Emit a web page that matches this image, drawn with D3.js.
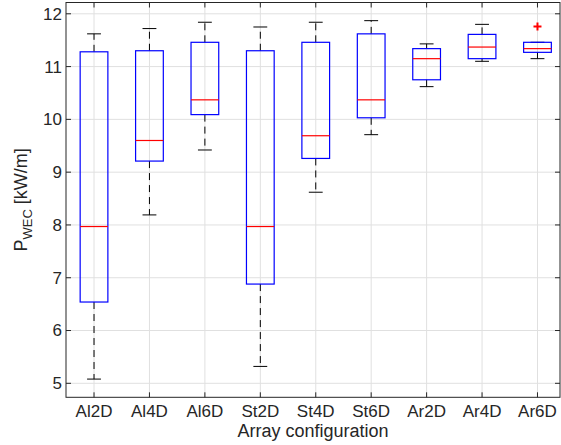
<!DOCTYPE html>
<html>
<head>
<meta charset="utf-8">
<script src="https://cdn.jsdelivr.net/npm/d3@7"></script>
<style>
  html, body { margin: 0; padding: 0; background: #fff; }
  svg { display: block; font-family: "Liberation Sans", Arial, Helvetica, sans-serif; }
</style>
</head>
<body>
<svg id="chart" width="561" height="445"></svg>
<script>
// Box-plot summary per array configuration (kW/m)
const categories  = ["Al2D", "Al4D", "Al6D", "St2D", "St4D", "St6D", "Ar2D", "Ar4D", "Ar6D"];
const whiskerLow  = [5.08, 8.19, 9.42, 5.32, 8.62, 9.71, 10.62, 11.10, 11.15];
const quartile1   = [6.54, 9.21, 10.09, 6.88, 9.26, 10.03, 10.75, 11.15, 11.27];
const medians     = [7.97, 9.60, 10.37, 7.97, 9.69, 10.37, 11.15, 11.37, 11.34];
const quartile3   = [11.28, 11.30, 11.46, 11.30, 11.46, 11.62, 11.34, 11.61, 11.46];
const whiskerHigh = [11.62, 11.72, 11.84, 11.75, 11.84, 11.87, 11.43, 11.80, 11.46];
const outliers    = [{ cat: "Ar6D", value: 11.76 }];
const yTicks      = [5, 6, 7, 8, 9, 10, 11, 12];

const svg = d3.select("#chart");
const pLeft = 66, pRight = 560, pTop = 2.5, pBottom = 397.3;

const x = d3.scaleLinear().domain([0.5, 9.5]).range([66.3, 565.2]);
const y = d3.scaleLinear().domain([4.735, 12.214]).range([pBottom, pTop]);
const step = x(2) - x(1);
const boxW = step * 0.5, capW = step * 0.25;

const axisColor = "#262626";
const gridColor = "#e0e0e0";

// grid
const grid = svg.append("g");
grid.selectAll("line.gy").data(yTicks).join("line")
  .attr("x1", pLeft).attr("x2", pRight)
  .attr("y1", d => y(d)).attr("y2", d => y(d))
  .attr("stroke", gridColor).attr("stroke-width", 1);
grid.selectAll("line.gx").data(categories).join("line")
  .attr("x1", (d, i) => x(i + 1)).attr("x2", (d, i) => x(i + 1))
  .attr("y1", pTop).attr("y2", pBottom)
  .attr("stroke", gridColor).attr("stroke-width", 1);

// boxes
const data = categories.map((c, i) => ({
  c, pos: i + 1, lo: whiskerLow[i], q1: quartile1[i], med: medians[i], q3: quartile3[i], hi: whiskerHigh[i]
}));
const g = svg.append("g");
const b = g.selectAll("g.box").data(data).join("g").attr("class", "box");

b.append("line") // upper whisker
  .attr("x1", d => x(d.pos)).attr("x2", d => x(d.pos))
  .attr("y1", d => y(d.q3)).attr("y2", d => y(d.hi))
  .attr("stroke", "#000").attr("stroke-width", 1).attr("stroke-dasharray", "7,5");
b.append("line") // lower whisker
  .attr("x1", d => x(d.pos)).attr("x2", d => x(d.pos))
  .attr("y1", d => y(d.q1)).attr("y2", d => y(d.lo))
  .attr("stroke", "#000").attr("stroke-width", 1).attr("stroke-dasharray", "7,5");
b.append("line") // upper cap
  .attr("x1", d => x(d.pos) - capW / 2).attr("x2", d => x(d.pos) + capW / 2)
  .attr("y1", d => y(d.hi)).attr("y2", d => y(d.hi))
  .attr("stroke", "#000").attr("stroke-width", 1);
b.append("line") // lower cap
  .attr("x1", d => x(d.pos) - capW / 2).attr("x2", d => x(d.pos) + capW / 2)
  .attr("y1", d => y(d.lo)).attr("y2", d => y(d.lo))
  .attr("stroke", "#000").attr("stroke-width", 1);
b.append("rect")
  .attr("x", d => x(d.pos) - boxW / 2).attr("width", boxW)
  .attr("y", d => y(d.q3)).attr("height", d => y(d.q1) - y(d.q3))
  .attr("fill", "none").attr("stroke", "#0000ff").attr("stroke-width", 1.2);
b.append("line") // median
  .attr("x1", d => x(d.pos) - boxW / 2).attr("x2", d => x(d.pos) + boxW / 2)
  .attr("y1", d => y(d.med)).attr("y2", d => y(d.med))
  .attr("stroke", "#ff0000").attr("stroke-width", 1.2);

// outliers
const o = g.selectAll("g.out").data(outliers).join("g")
  .attr("transform", d => `translate(${x(categories.indexOf(d.cat) + 1)},${y(d.value)})`);
o.append("path").attr("d", "M-4,0H4M0,-4V4")
  .attr("stroke", "#ff0000").attr("stroke-width", 2);

// frame and inward ticks
const ax = svg.append("g").attr("stroke", axisColor).attr("fill", "none");
ax.append("rect").attr("x", pLeft).attr("y", pTop).attr("width", pRight - pLeft).attr("height", pBottom - pTop)
  .attr("stroke-width", 1);
const tl = 5;
ax.selectAll("line.xtb").data(categories).join("line")
  .attr("x1", (d, i) => x(i + 1)).attr("x2", (d, i) => x(i + 1))
  .attr("y1", pBottom).attr("y2", pBottom - tl);
ax.selectAll("line.xtt").data(categories).join("line")
  .attr("x1", (d, i) => x(i + 1)).attr("x2", (d, i) => x(i + 1))
  .attr("y1", pTop).attr("y2", pTop + tl);
ax.selectAll("line.ytl").data(yTicks).join("line")
  .attr("x1", pLeft).attr("x2", pLeft + tl)
  .attr("y1", d => y(d)).attr("y2", d => y(d));
ax.selectAll("line.ytr").data(yTicks).join("line")
  .attr("x1", pRight).attr("x2", pRight - tl)
  .attr("y1", d => y(d)).attr("y2", d => y(d));

// tick labels
svg.append("g").selectAll("text").data(categories).join("text")
  .attr("x", (d, i) => x(i + 1)).attr("y", 416.5)
  .attr("text-anchor", "middle").attr("font-size", 17).attr("fill", axisColor)
  .text(d => d);
svg.append("g").selectAll("text").data(yTicks).join("text")
  .attr("x", 62).attr("y", d => y(d)).attr("dy", "0.35em")
  .attr("text-anchor", "end").attr("font-size", 17).attr("fill", axisColor)
  .text(d => d);

// axis titles
svg.append("text")
  .attr("x", (pLeft + pRight) / 2).attr("y", 437)
  .attr("text-anchor", "middle").attr("font-size", 18).attr("fill", axisColor)
  .text("Array configuration");

const yl = svg.append("text")
  .attr("transform", `translate(27,${(pTop + pBottom) / 2}) rotate(-90)`)
  .attr("text-anchor", "middle").attr("font-size", 18).attr("fill", axisColor);
yl.append("tspan").text("P");
yl.append("tspan").attr("font-size", 13).attr("dy", 5).text("WEC");
yl.append("tspan").attr("dy", -5).text(" [kW/m]");
</script>
</body>
</html>
